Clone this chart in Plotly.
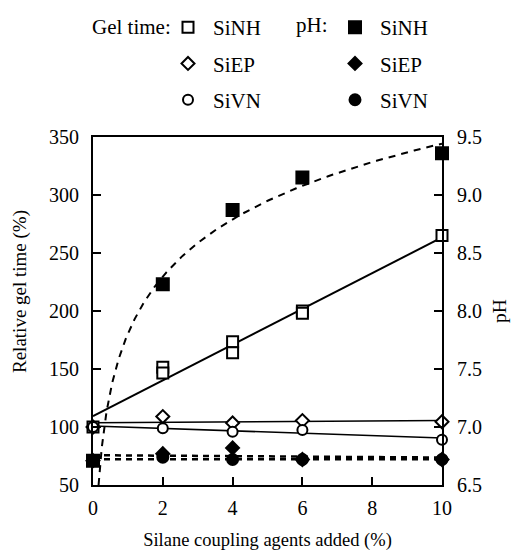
import numpy as np
import plotly.graph_objects as go
from plotly.subplots import make_subplots

# ---- data ----
x_sinh_gel = [0, 2, 2, 4, 4, 6, 6, 10]
gel_sinh = [100, 151.5, 146.5, 173.5, 164, 200, 198, 265]

x_pts = [0, 2, 4, 6, 10]
gel_siep = [100, 109, 103.5, 105.5, 104.5]
gel_sivn = [100, 99, 96, 97.5, 89]

ph_sinh = [6.71, 8.23, 8.87, 9.15, 9.36]
ph_siep = [6.71, 6.77, 6.82, 6.72, 6.72]
ph_sivn = [6.71, 6.74, 6.72, 6.72, 6.72]

x_ticks = [0, 2, 4, 6, 8, 10]
gel_ticks = [50, 100, 150, 200, 250, 300, 350]
ph_ticks = [6.5, 7.0, 7.5, 8.0, 8.5, 9.0, 9.5]

FONT = "Liberation Serif, Times New Roman, serif"

# page body has an 8px margin; the figure is sized so the plot area lands at
# x 93..442, y 137..485 of the window
OFF = 8
W, H = 523 - OFF, 552 - OFF
ML, MT, PW, PH = 93 - OFF, 137 - OFF, 349, 348


def px(xs):
    return (xs - 93) / PW


def py(ys):
    return (485 - ys) / PH


fig = make_subplots(specs=[[{"secondary_y": True}]])

# ---- fitted lines (computed from the data) ----
def lin_fit(x, y):
    b, a = np.polyfit(np.asarray(x, float), np.asarray(y, float), 1)
    xs = np.array([0.0, 10.0])
    return xs, a + b * xs

for xv, yv, w in [(x_sinh_gel, gel_sinh, 2), (x_pts, gel_siep, 1.6), (x_pts, gel_sivn, 1.6)]:
    xs, ys = lin_fit(xv, yv)
    fig.add_trace(go.Scatter(x=xs, y=ys, mode="lines", line=dict(color="black", width=w),
                             showlegend=False, hoverinfo="skip"), secondary_y=False)

for yv in [ph_siep, ph_sivn]:
    xs, ys = lin_fit(x_pts, yv)
    fig.add_trace(go.Scatter(x=xs, y=ys, mode="lines",
                             line=dict(color="black", width=2.5, dash="6px,5px"),
                             showlegend=False, hoverinfo="skip"), secondary_y=True)

# logarithmic fit for SiNH pH
xl = np.array(x_pts[1:], float)
yl = np.array(ph_sinh[1:], float)
bl, al = np.polyfit(np.log(xl), yl, 1)
x0 = np.exp((6.5 - al) / bl)
xc = np.geomspace(x0, 10, 200)
fig.add_trace(go.Scatter(x=xc, y=al + bl * np.log(xc), mode="lines",
                         line=dict(color="black", width=2, dash="7px,6px"),
                         showlegend=False, hoverinfo="skip"), secondary_y=True)

# ---- markers ----
def mk(symbol, size, filled):
    return dict(symbol=symbol, size=size, color="black" if filled else "white",
                line=dict(color="black", width=2))

gel_series = [("SiNH", x_sinh_gel, gel_sinh, "square", 11),
              ("SiEP", x_pts, gel_siep, "diamond", 10),
              ("SiVN", x_pts, gel_sivn, "circle", 10)]
ph_series = [("SiNH", x_pts, ph_sinh, "square", 12),
             ("SiEP", x_pts, ph_siep, "diamond", 10),
             ("SiVN", x_pts, ph_sivn, "circle", 11)]

for i, (name, xv, yv, sym, sz) in enumerate(ph_series):
    fig.add_trace(go.Scatter(x=xv, y=yv, mode="markers", name=name, marker=mk(sym, sz, True),
                             cliponaxis=False, legend="legend2", legendgroup=f"p{i}"),
                  secondary_y=True)
for i, (name, xv, yv, sym, sz) in enumerate(gel_series):
    fig.add_trace(go.Scatter(x=xv, y=yv, mode="markers", name=name, marker=mk(sym, sz, False),
                             cliponaxis=False, legend="legend", legendgroup=f"g{i}"),
                  secondary_y=False)

axis_common = dict(showline=True, linecolor="black", linewidth=2, ticks="inside",
                   ticklen=8, tickwidth=1.5, tickcolor="black", showgrid=False,
                   zeroline=False, automargin=False,
                   tickfont=dict(family=FONT, size=20, color="black"))

fig.update_xaxes(range=[0, 10], domain=[0, 1], tickvals=x_ticks, mirror=True, ticklabelstandoff=4,
                 title=dict(text="Silane coupling agents added (%)",
                            font=dict(family=FONT, size=18.5, color="black"), standoff=15),
                 **axis_common)
fig.update_yaxes(range=[50, 350], tickvals=gel_ticks, secondary_y=False, ticklabelstandoff=8,
                 **axis_common)
fig.update_yaxes(range=[6.5, 9.5], tickvals=ph_ticks, tickformat=".1f", secondary_y=True,
                 ticklabelstandoff=9,
                 title=dict(text="pH", font=dict(family=FONT, size=19.5, color="black"), standoff=11),
                 **axis_common)

legend_common = dict(bgcolor="rgba(0,0,0,0)", font=dict(family=FONT, size=21, color="black"),
                     tracegroupgap=6, orientation="v", xanchor="left", yanchor="top",
                     itemwidth=40, itemclick=False, itemdoubleclick=False)

annots = [
    dict(text="Relative gel time (%)", x=px(20), y=py(292), textangle=-90,
         font=dict(family=FONT, size=19, color="black")),
    dict(text="Gel time:", x=px(173), y=py(27), xanchor="right",
         font=dict(family=FONT, size=21, color="black")),
    dict(text="pH:", x=px(294), y=py(25), xanchor="left",
         font=dict(family=FONT, size=21, color="black")),
]
for a in annots:
    a.update(xref="paper", yref="paper", showarrow=False)
    a.setdefault("xanchor", "center")
    a.setdefault("yanchor", "middle")

fig.update_layout(
    width=W, height=H,
    margin=dict(l=ML, r=W - ML - PW, t=MT, b=H - MT - PH, autoexpand=False),
    paper_bgcolor="white", plot_bgcolor="white",
    font=dict(family=FONT, color="black"),
    showlegend=True,
    legend=dict(x=px(163), y=py(7), **legend_common),
    legend2=dict(x=px(330), y=py(7), **legend_common),
    annotations=annots,
)

fig.write_html("out.html")
